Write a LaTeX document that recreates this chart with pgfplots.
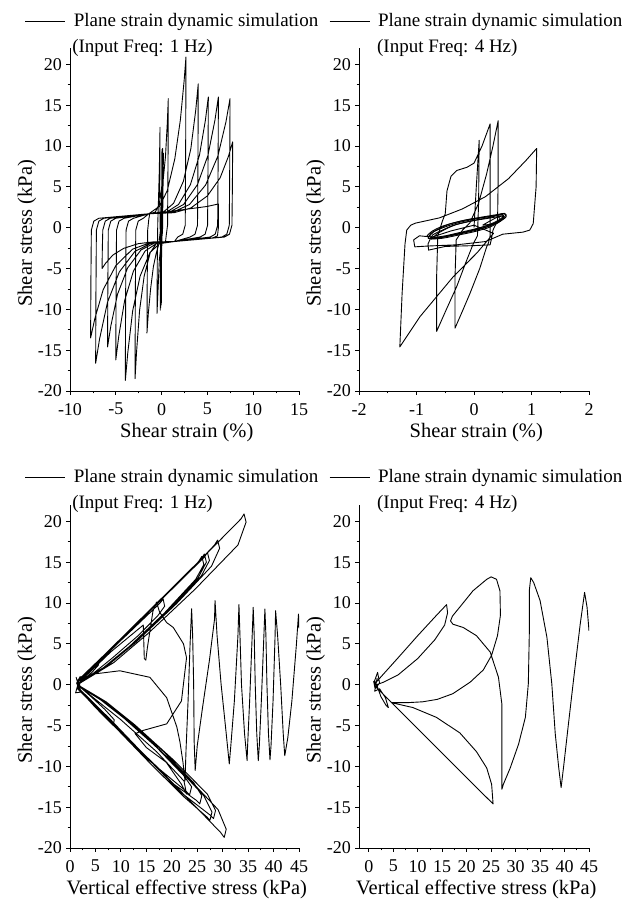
\documentclass[border=0pt]{standalone}
\usepackage{pgfplots}
\pgfplotsset{compat=1.18}
\usepackage{fontspec}
\setmainfont{Liberation Serif}
\tikzset{l2/.style={anchor=base west, inner sep=0pt, font=\fontsize{19}{22}\selectfont}}
\pgfplotsset{
  ln/.style={black, line width=0.9pt, mark=none, line join=round},
  base/.style={
    scale only axis, height=343pt, anchor=south west, clip mode=individual,
    axis x line=bottom, axis y line=left,
    axis line style={-, line width=0.9pt},
    tick align=outside, major tick length=4pt, minor tick length=2.5pt,
    every tick/.style={black, line width=0.8pt},
    ymin=-20, ymax=22, ytick={-20,-15,...,20},
    minor x tick num=1, minor y tick num=1,
    /pgf/number format/assume math mode=true,
    tick label style={font=\fontsize{18}{18}\selectfont},
    yticklabel style={inner sep=2pt, xshift=-2pt},
    xticklabel style={inner sep=2pt, yshift=-6pt},
    label style={font=\fontsize{20.5}{24}\selectfont},
    ylabel={Shear stress (kPa)},
    ylabel style={at={(axis description cs:-0.188,0.46)}, anchor=center},
    xlabel style={at={(axis description cs:0.51,-0.122)}, anchor=center},
    legend style={draw=none, fill=none, inner sep=0pt, outer sep=0pt, anchor=west,
      font=\fontsize{19}{22}\selectfont, nodes={inner sep=0pt},
      /tikz/every odd column/.style={column sep=8pt}},
    legend image code/.code={\draw[#1] (0pt,0pt) -- (40pt,0pt);},
  },
}
\begin{document}
\begin{tikzpicture}
\useasboundingbox (0,0) rectangle (640pt,901pt);
% ---------------- top left ----------------
\begin{axis}[base, at={(70pt,510pt)}, width=229pt,
  xmin=-10, xmax=15, xtick={-10,-5,...,15}, xlabel={Shear strain (\%)},
  legend style={at={(axis description cs:-0.1965,1.0787)}}]
\addplot[ln] coordinates {
(0,0) (0.02,9.3) (0.01,0) (-0.03,-9.2) (0,0.2) (0.04,9.6) (0.02,0) (-0.06,-9.5) (-0.02,0) (0.08,9.4) (0.05,0) (-0.1,-9.8) (-0.06,0) (0.12,9.7) (0.07,0) (-0.15,-10.1) (-0.1,0) (0.2,9.1) (0.1,-0.5) (-0.25,-4) (-0.5,-10.5)
(-0.47,-4) (-0.42,0.5) (-0.35,3) (-0.25,7) (-0.17,12.3)
(-0.2,5) (-0.15,-0.5) (-0.3,-2) (-0.6,-3.2) (-0.9,-4.8) (-1.2,-7.5) (-1.45,-10.5) (-1.6,-12.9)
(-1.57,-6.45) (-1.52,-0.3) (-1.4,1) (-1.3,1.7) (-0.69,1.91) (-0.285,2.83) (0.12,5.23) (0.426,8.75) (0.63,12.98) (0.73,15.8)
(0.7,7.9) (0.65,0.3) (0.5,-1) (0.43,-1.7) (-0.57,-1.95) (-1.235,-3.04) (-1.9,-5.9) (-2.4,-10.1) (-2.73,-15.14) (-2.9,-18.5)
(-2.87,-9.25) (-2.82,-0.3) (-2.55,0.8) (-2.0,1.15) (-1.4,1.7) (-0.18,2.66) (0.63,4.58) (1.44,8.42) (2.05,13.2) (2.46,18.0) (2.66,20.9)
(2.63,10.45) (2.58,0.3) (2.31,-0.8) (1.76,-1.15) (1.4,-1.7) (-0.21,-1.96) (-1.28,-3.06) (-2.35,-5.95) (-3.16,-10.2) (-3.69,-15.3) (-3.96,-18.7)
(-3.93,-9.35) (-3.88,-0.3) (-3.61,0.8) (-3.06,1.15) (-1.4,1.7) (0.22,1.94) (1.3,2.97) (2.38,5.68) (3.19,9.65) (3.73,14.42) (4.0,17.6)
(3.97,8.8) (3.92,0.3) (3.65,-0.8) (3.1,-1.15) (1.4,-1.7) (-0.52,-1.92) (-1.8,-2.86) (-3.08,-5.33) (-4.04,-8.95) (-4.68,-13.3) (-5.0,-16.2)
(-4.97,-8.1) (-4.92,-0.3) (-4.65,0.8) (-4.1,1.15) (-1.4,1.7) (0.55,1.91) (1.85,2.84) (3.15,5.28) (4.13,8.85) (4.78,13.14) (5.1,16.0)
(5.07,8) (5.02,0.3) (4.75,-0.8) (4.2,-1.15) (1.4,-1.7) (-0.79,-1.89) (-2.25,-2.73) (-3.71,-4.93) (-4.81,-8.15) (-5.54,-12.02) (-5.9,-14.6)
(-5.87,-7.3) (-5.82,-0.3) (-5.55,0.8) (-5.0,1.15) (-1.4,1.7) (0.88,1.91) (2.4,2.84) (3.92,5.28) (5.06,8.85) (5.82,13.14) (6.2,16.0)
(6.17,8) (6.12,0.3) (5.85,-0.8) (5.3,-1.15) (1.4,-1.7) (-1.18,-1.92) (-2.9,-2.89) (-4.62,-5.43) (-5.91,-9.15) (-6.77,-13.62) (-7.2,-16.6)
(-7.17,-8.3) (-7.12,-0.3) (-6.85,0.8) (-6.3,1.15) (-1.4,1.7) (1.26,1.91) (3.04,2.83) (4.81,5.23) (6.14,8.75) (7.03,12.98) (7.47,15.8)
(7.44,7.9) (7.39,0.3) (7.12,-0.8) (6.57,-1.15) (1.4,-1.7) (-1.35,-1.88) (-3.18,-2.64) (-5.0,-4.65) (-6.38,-7.6) (-7.29,-11.14) (-7.75,-13.5)
(-7.72,-6.75) (-7.67,-0.3) (-7.4,0.8) (-6.85,1.15) (-1.4,1.7) (1.35,1.83) (3.18,2.4) (5.01,3.9) (6.39,6.1) (7.3,8.74) (7.76,10.5)
(7.73,5.25) (7.68,0.3) (7.41,-0.8) (6.86,-1.15) (1.4,-1.7) (-0.97,-1.75) (-2.55,-1.96) (-4.13,-2.53) (-5.32,-3.35) (-6.1,-4.34) (-6.5,-5.0)
(-6.47,-2.5) (-6.42,-0.3) (-6.15,0.8) (-5.6,1.15) (-1.4,1.7) (1,2.0) (3,2.3) (5,2.6) (6.2,2.9) (6.2,0) (6.1,-1.0) (5.5,-1.3)
};
\addlegendentry{Plane strain dynamic simulation}
\node[l2] at (axis description cs:0.009,0.988) {(Input Freq: 1 Hz)};
\end{axis}
% ---------------- top right ----------------
\begin{axis}[base, at={(359pt,510pt)}, width=230pt,
  xmin=-2, xmax=2, xtick={-2,-1,0,1,2}, xlabel={Shear strain (\%)},
  legend style={at={(axis description cs:-0.130,1.0787)}}]
\addplot[ln] coordinates {
(0,0) (0.04,5) (0.09,10.7) (0.08,3) (0.06,-1.0) (-0.01,-1.93) (-0.15,-4.4) (-0.30,-7.2) (-0.48,-10.0) (-0.65,-12.7)
(-0.65,-6) (-0.63,-1) (-0.55,0.8) (-0.50,1.7) (-0.47,4.5) (-0.40,6.3) (-0.30,7.0) (-0.12,7.4) (0.0,7.9) (0.14,10.0) (0.28,12.7)
(0.28,5) (0.28,-1.0) (0.25,-1.9) (0.22,-2.35) (0.1,-5) (-0.07,-8.05) (-0.2,-10.2) (-0.33,-12.3)
(-0.33,-6) (-0.31,-1.5) (-0.2,-0.3) (-0.07,0.6) (0.08,3.0) (0.22,6.6) (0.33,10.0) (0.42,13.1)
(0.42,6) (0.41,0.9) (0.33,-0.3) (0.30,-1.5) (0.28,-2.1) (0.0,-2.2) (-0.5,-2.3) (-0.79,-2.75) (-0.8,-2.0) (-0.75,-1.2)
(-0.4,-0.4) (0.0,0.3) (0.34,-0.7) (0.05,-3.1) (-0.36,-6.0) (-0.94,-10.9) (-1.29,-14.6)
(-1.25,-8) (-1.2,-2) (-1.17,-0.3) (-1.1,0.3) (-1.02,0.55) (-0.6,1.2) (-0.2,2.3) (0.2,3.8) (0.6,6.0) (0.9,8.2) (1.09,9.7)
(1.08,5) (1.03,0.5) (0.97,-0.3) (0.85,-0.55) (0.5,-0.8) (0.2,-1.7) (-0.3,-2.1) (-0.8,-2.25) (-1.03,-2.35) (-1.05,-1.5) (-0.95,-1.0) (-0.8,-1.1)
};
\addlegendentry{Plane strain dynamic simulation}
\addplot[ln, smooth] coordinates {(-0.8,-1.3) (-0.75,-0.7) (-0.6,-0.1) (-0.4,0.5) (-0.1,1.0) (0.2,1.3) (0.45,1.55) (0.52,1.4) (0.45,0.9) (0.3,0.3) (0.1,-0.2) (-0.2,-0.7) (-0.5,-1.1) (-0.7,-1.35) (-0.8,-1.3)};
\addplot[ln, smooth] coordinates {(-0.75,-1.4) (-0.72,-0.9) (-0.55,-0.3) (-0.35,0.3) (-0.05,0.8) (0.25,1.15) (0.48,1.4) (0.52,1.2) (0.42,0.6) (0.25,0.0) (0.0,-0.5) (-0.3,-0.95) (-0.55,-1.3) (-0.75,-1.4)};
\addplot[ln, smooth] coordinates {(-0.7,-1.2) (-0.65,-0.8) (-0.5,-0.2) (-0.3,0.4) (0,0.9) (0.3,1.3) (0.5,1.7) (0.55,1.5) (0.48,1.0) (0.3,0.4) (0.05,-0.1) (-0.25,-0.6) (-0.5,-1.0) (-0.7,-1.2)};
\addplot[ln, smooth] coordinates {(-0.78,-1.1) (-0.7,-0.5) (-0.5,0.1) (-0.25,0.65) (0.05,1.1) (0.35,1.45) (0.5,1.6) (0.5,1.3) (0.4,0.8) (0.2,0.2) (-0.05,-0.35) (-0.35,-0.85) (-0.6,-1.2) (-0.78,-1.1)};
\addplot[ln, smooth] coordinates {(-0.82,-1.0) (-0.72,-0.4) (-0.52,0.25) (-0.2,0.85) (0.1,1.25) (0.4,1.6) (0.53,1.75) (0.56,1.35) (0.45,0.75) (0.22,0.1) (-0.1,-0.45) (-0.4,-0.95) (-0.65,-1.3) (-0.82,-1.0)};
\addplot[ln, smooth] coordinates {(0.15,0.3) (0.3,0.9) (0.42,1.3) (0.45,1.0) (0.35,0.5) (0.15,0.3)};
\node[l2] at (axis description cs:0.078,0.988) {(Input Freq: 4 Hz)};
\end{axis}
% ---------------- bottom left ----------------
\begin{axis}[base, at={(70pt,53pt)}, width=229pt,
  xmin=0, xmax=45, xtick={0,5,...,45}, xlabel={Vertical effective stress (kPa)},
  legend style={at={(axis description cs:-0.1965,1.0816)}}]
\addplot[ln] coordinates {
(45.0,6.9) (44.9,8.65) (44.5,5) (43.6,-2) (42.8,-6.5) (42.2,-8.7) (41.9,-6) (41.4,0) (40.8,6) (40.4,9.06) (40.3,6) (39.9,-2) (39.5,-7.5) (39.3,-9.2) (39.0,-6) (38.7,0) (38.5,6) (38.3,9.27) (38.1,6) (37.6,-2) (37.2,-7.5) (37.0,-9.3) (36.7,-6) (36.4,0) (36.2,6) (36.0,9.47) (35.8,6) (35.3,-2) (34.9,-7.5) (34.8,-9.3) (34.3,-6) (33.7,0) (33.4,6) (33.2,9.8) (33.0,6) (32.3,-2) (31.6,-7.5) (31.3,-9.7) (30.7,-6) (29.7,0) (28.9,6) (28.5,10.3)
(28.4,8) (27.4,3) (26.0,-3) (25.0,-7.5) (24.6,-10.5) (24.4,-7) (24.3,0) (24.1,6) (23.9,9.3) (23.6,5) (23.2,-2) (22.8,-8) (22.6,-11.8) (22.2,-9.5) (21.6,-7) (21,-5.2) (19,-1.6) (15.7,0.9) (9.8,1.7) (4.6,1.3) (2,0.4)
(8,4.0) (14.4,7.3) (14.6,3.2) (14.9,3.0) (15.2,4.5) (16.3,9.0) (17,10.1) (17.6,8.9) (19,7.6) (20.3,7.0) (22.3,5.0) (22.9,3.3) (21.9,-2) (19,-4.8) (14.4,-5.6) (12.8,-6.0) (15,-7.7) (18.9,-9.5) (21.9,-12.2) (22.9,-13.4) (22.4,-11.8) (17,-8.2) (10,-4.3) (5,-1.8) (2,-0.3)
(1.5,0.4) (10,5.5) (17.1,9.9) (26,15.5) (33.6,20.3) (34.2,20.9) (34.6,19.9) (33.0,17.1) (24.6,11.7) (15.4,6.3) (8.6,2.7) (2.0,0.2)
(1.5,-0.4) (10,-5.8) (17,-10.0) (24,-14.5) (29.6,-18.1) (30.3,-18.7) (30.7,-17.7) (29.1,-15.3) (21.8,-10.5) (13.6,-5.6) (7.6,-2.4) (2,-0.2)
(1.5,0.4) (9,4.8) (15,8.6) (22,12.9) (28.4,17.1) (29,17.7) (29.4,16.7) (27.8,14.5) (20.9,9.9) (13.1,5.3) (7.3,2.3) (2,0.2)
(1.5,-0.4) (9,-5.0) (16,-9.5) (22,-13.3) (27.6,-16.0) (28.2,-16.4) (28.6,-15.4) (27.0,-13.4) (20.3,-9.2) (12.7,-4.9) (7.1,-2.1) (2,-0.2)
(1.5,0.3) (8,4.2) (14,8.0) (20,11.7) (26.4,15.6) (27,16.2) (27.4,15.2) (25.8,13.3) (19.4,9.1) (12.2,4.9) (6.8,2.1) (2,0.2)
(1.5,-0.5) (9.5,-5.6) (16,-9.8) (22.5,-13.8) (26.9,-16.2) (27.5,-16.6) (27.9,-15.6) (26.3,-13.6) (19.8,-9.3) (12.4,-5.0) (6.9,-2.2) (2,-0.3)
(1.5,0.5) (7,3.8) (13,7.5) (19.5,11.5) (25.8,15.4) (26.4,16.0) (26.8,15.0) (25.2,13.1) (19.0,9.0) (11.9,4.8) (6.6,2.1) (2,0.3)
(1.5,-0.3) (8,-4.3) (14,-8.2) (20,-12.0) (24.9,-14.2) (25.5,-14.6) (25.9,-13.6) (24.3,-12.0) (18.4,-8.2) (11.5,-4.4) (6.4,-1.9) (2,-0.2)
(1.5,0.3) (8.5,4.6) (15,8.6) (21,12.3) (25.3,15.1) (25.9,15.7) (26.3,14.7) (24.7,12.9) (18.6,8.8) (11.7,4.7) (6.5,2.0) (2,0.2)
(1.5,-0.4) (8,-4.6) (15,-9.0) (22.9,-13.1) (23.5,-13.5) (23.9,-12.5) (22.3,-11.1) (16.9,-7.6) (10.6,-4.1) (5.9,-1.8) (2,-0.2)
(1.5,0.4) (6,3.1) (11,6.0) (17.7,10.0) (18.3,10.5) (18.6,9.6) (17.2,8.4) (13.2,5.9) (8.2,3.2) (4.6,1.4) (2,0.3)
(1.5,-0.4) (5,-2.8) (8.5,-5.0) (8.7,-4.3) (6.8,-3.0) (4.2,-1.5) (2,-0.3)
(1.5,0.3) (3.5,1.6) (5.5,2.9) (5.6,2.4) (4.3,1.5) (2.8,0.7) (1.6,0.1)
(1.2,0.9) (2.2,-0.9) (1.1,-1.0) (2.0,1.0) (1.3,0.2) (1.8,-0.6) (1.4,0.6)
};
\addlegendentry{Plane strain dynamic simulation}
\node[l2] at (axis description cs:0.009,0.991) {(Input Freq: 1 Hz)};
\end{axis}
% ---------------- bottom right ----------------
\begin{axis}[base, at={(359pt,53pt)}, width=230pt,
  xmin=-2, xmax=45, xtick={0,5,...,45}, xlabel={Vertical effective stress (kPa)},
  legend style={at={(axis description cs:-0.130,1.0816)}}]
\addplot[ln] coordinates {
(45,6.6) (44.6,9.5) (44.1,11.3) (43.2,7.4) (41.9,0.9) (40.8,-4.8) (39.8,-10.1) (39.3,-12.6) (38.8,-10.1) (38.1,-6.0) (37.4,0.1) (36.4,5.8) (35.0,10.3) (33.7,12.5) (33.1,13.1)
(32.8,11.5) (32.8,6.2) (32.6,0.1) (32.0,-4.0) (30.6,-7.3) (28.9,-10.2) (27.5,-12.2) (27.2,-12.8)
(27.2,-8.1) (27.2,-2.4) (26.5,0.9) (24.8,4.0) (22,6.0) (19.3,7.0) (17.2,7.4) (16.7,7.8) (17.1,8.4) (18.6,9.5) (21.3,11.5) (24.1,12.9) (25,13.2)
(26.1,12.9) (26.8,11.5) (26.9,8.5) (26.3,6) (25.1,3.6) (23.4,1.8) (20.7,0.3) (17.2,-1.1) (14,-1.8) (11,-2.1) (8,-2.2) (4.6,-2.2)
(9.0,-2.8) (13.8,-4.0) (18.6,-5.9) (22.0,-8.2) (24.1,-10.2) (25.1,-12.2) (25.4,-14.6) (20,-11.4) (13,-7.2) (7,-3.6) (1.5,-0.3)
(1.2,0.5) (1.8,1.5) (2.2,0.2) (1.3,-0.5) (1.0,0.4) (1.5,0.3) (6,3.3) (10,6.0) (14,8.6) (15.9,9.8) (16.1,8.8) (15.5,7.3) (13.5,5.5) (10,3.2) (6,1.2) (3,0.3) (1.6,0)
(2.5,-1.5) (3.5,-2.5) (4.0,-2.8) (3.4,-1.6) (2.2,-0.5) (1.2,-0.8) (1.7,0.8)
};
\addlegendentry{Plane strain dynamic simulation}
\node[l2] at (axis description cs:0.078,0.991) {(Input Freq: 4 Hz)};
\end{axis}
\end{tikzpicture}
\end{document}
